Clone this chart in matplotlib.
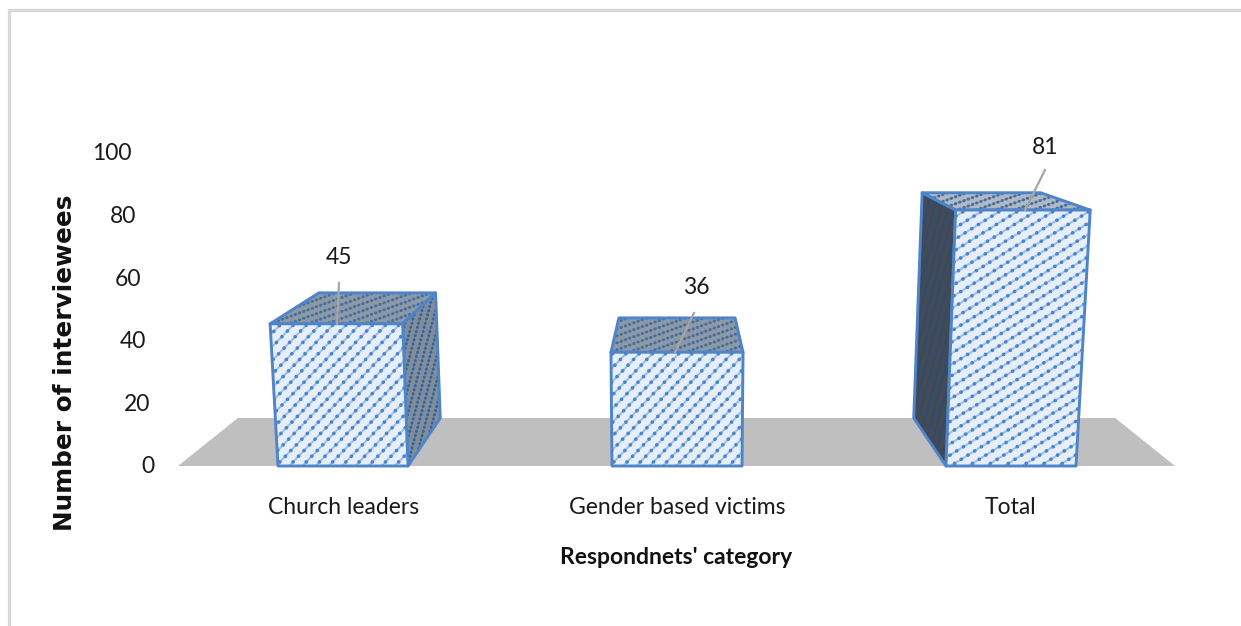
import numpy as np
import matplotlib
matplotlib.use("Agg")
import matplotlib.pyplot as plt
from matplotlib.patches import Polygon
from matplotlib.collections import LineCollection

categories = ["Church leaders", "Gender based victims", "Total"]
values = [45, 36, 81]
tick_values = [0, 20, 40, 60, 80, 100]
x_title = "Respondnets' category"
y_title = "Number of interviewees"

W, H = 1241, 626
Y0 = 466           # pixel row of value 0
S = 3.16           # pixels per unit
CX, VY = 677, (466 - 66) / S   # vanishing point
DEPTH = 0.88
SPREAD = 4.4e-4
BAR_W = 130
STEP = 334
FONT = ["Lato", "DejaVu Sans"]
EDGE = "#4f85c8"
TXT = "#1a1a1a"

fig = plt.figure(figsize=(W / 100, H / 100), dpi=100, facecolor="white")
ax = fig.add_axes([0, 0, 1, 1])
ax.set_xlim(0, W)
ax.set_ylim((Y0 - H) / S, Y0 / S)
ax.axis("off")


def back(p):
    return (CX + (p[0] - CX) * DEPTH, VY + (p[1] - VY) * DEPTH)


def hatch(poly, angle, spacing, line_c, line_lw, dot_c, dot_lw, dot_gap, z):
    """Diagonal dotted pattern clipped to a face; angle in screen degrees."""
    a = np.radians(angle)
    d = np.array([np.cos(a), np.sin(a)])
    n = np.array([-d[1], d[0]])
    pts = np.array(poly.get_xy()) * [1, S]
    proj = pts @ n
    segs = []
    for off in np.arange(proj.min() - spacing, proj.max() + spacing, spacing):
        c = n * off
        segs.append(np.array([c - d * 2000, c + d * 2000]) / [1, S])
    if line_c:
        lc = LineCollection(segs, colors=line_c, linewidths=line_lw, zorder=z)
        ax.add_collection(lc, autolim=False)
        lc.set_clip_path(poly)
    dc = LineCollection(segs, colors=dot_c, linewidths=dot_lw, zorder=z,
                        linestyles=[(0, (0.01, dot_gap))], capstyle="round")
    ax.add_collection(dc, autolim=False)
    dc.set_clip_path(poly)


def face(corners, fc, angle, spacing, line_c, line_lw, dot_c, dot_lw, dot_gap, z):
    poly = Polygon(corners, closed=True, fc=fc, ec="none", zorder=z)
    ax.add_patch(poly)
    hatch(poly, angle, spacing, line_c, line_lw, dot_c, dot_lw, dot_gap, z)
    ax.add_patch(Polygon(corners, closed=True, fc="none", ec=EDGE, lw=2.1,
                         joinstyle="round", zorder=z + 0.5))


# frame
ax.plot([8.5, 8.5, W], [(Y0 - H) / S, (Y0 - 9.5) / S, (Y0 - 9.5) / S],
        color="#d9d9d9", lw=2.4, zorder=0, solid_joinstyle="miter")

# floor
fl, fr = 178, 1175
floor = [(fl, 0), (fr, 0), back((fr, 0)), back((fl, 0))]
ax.add_patch(Polygon(floor, closed=True, fc="#bfbfbf", ec="none", zorder=1))

label_px = [(339, 258), (696, 288), (1045, 147)]
tip_px = [337, 675, 1025]
lead_px = [(339, 283), (694, 313), (1045, 170)]

# bars
for i, v in enumerate(values):
    x = CX + (i - 1) * STEP
    l, r = x - BAR_W / 2, x + BAR_W / 2
    fb_l, fb_r = (l, 0), (r, 0)
    ft_l = (l + (l - CX) * SPREAD * v, v)
    ft_r = (r + (r - CX) * SPREAD * v, v)
    bt_l, bt_r = back(ft_l), back(ft_r)
    z = 3 + i
    top_fc = "#b0b9c4" if i == 2 else "#8f99a6"
    face([ft_l, ft_r, bt_r, bt_l], top_fc, 20, 6.5, "#7890b0", 0.7, "#44709f", 2.3, 1.4, z)
    if i == 0:
        face([fb_r, ft_r, bt_r, back(fb_r)], "#838d99", 75, 6.5, "#6a82a3", 0.7,
             "#33659f", 2.2, 1.4, z)
    elif i == 2:
        face([fb_l, ft_l, bt_l, back(fb_l)], "#444a53", 75, 6.5, "#3b4657", 0.7,
             "#2a4d78", 2.2, 1.4, z)
    ang = 32 if i == 2 else 46
    face([fb_l, fb_r, ft_r, ft_l], "#e6eff9", ang, 9.5, "#9dbfe9", 1.5,
         "#4a84ca", 2.7, 2.1, z + 0.6)
    ax.text(x + [0.5, 0, -1][i], (Y0 - 507) / S, categories[i],
            ha="center", va="center", family=FONT, fontsize=16.5, color=TXT)
    ax.annotate(str(v), xy=(tip_px[i], v),
                xytext=(label_px[i][0], (Y0 - label_px[i][1]) / S),
                ha="center", va="center", family=FONT, fontsize=16.5, color=TXT, zorder=20)
    ax.plot([tip_px[i], lead_px[i][0]], [v, (Y0 - lead_px[i][1]) / S],
            color="#a6a6a6", lw=1.6, zorder=19)

# axis tick labels, sheared by the perspective
for t in tick_values:
    ax.text(155 - t * 0.23, t * 3.13 / S - 0.3, str(t), ha="right", va="center",
            family=FONT, fontsize=16.5, color=TXT)

ax.text(65.5, (Y0 - 363) / S, y_title, rotation=90, ha="center", va="center",
        family="DejaVu Sans", fontweight="bold", fontsize=17.8, color="#111111")
ax.text(676, (Y0 - 558) / S, x_title, ha="center", va="center",
        family=FONT, fontweight="bold", fontsize=16.5, color="#111111")

fig.savefig("out.png", dpi=100)
